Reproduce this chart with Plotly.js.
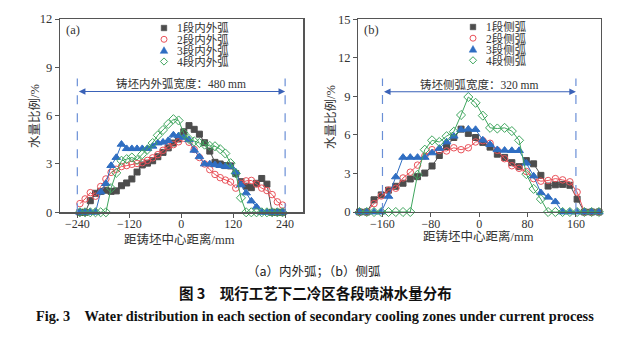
<!DOCTYPE html>
<html><head><meta charset="utf-8">
<script src="https://cdn.plot.ly/plotly-3.0.1.min.js"></script>
<style>html,body{margin:0;padding:0;background:#fff}#c{width:627px;height:338px}</style>
</head><body><div id="c"></div>
<script>
// ---------- data: panel (a) 内外弧 ----------
const xA = [-234,-222,-210,-198,-186,-174,-162,-150,-138,-126,-114,-102,-90,-78,-66,-54,-42,-30,-18,-6,6,18,30,42,54,66,78,90,102,114,126,138,150,162,174,186,198,210,222,234];
const a1 = [0,0,0.72,1.18,1.3,1.37,1.3,1.33,1.65,1.82,2.07,2.5,2.94,3.05,3.2,3.45,3.72,4.0,4.3,4.55,5.0,5.38,5.15,4.85,4.32,3.8,3.1,3.0,2.9,2.88,2.4,1.9,1.62,1.53,1.8,2.1,1.75,0,0,0];
const a2 = [0.54,0.83,1.22,1.0,1.6,2.07,2.48,2.67,2.84,2.9,2.98,3.03,3.08,3.22,3.38,3.58,3.85,4.1,4.2,4.38,4.6,4.35,3.9,3.4,3.0,2.65,2.35,2.15,2.0,1.88,1.5,1.8,1.95,1.98,1.75,1.5,1.35,1.1,0.65,0.45];
const a3 = [0,0,0,0,1.26,1.78,2.9,3.4,4.22,3.95,3.95,3.95,3.95,3.95,4.1,4.3,4.35,4.45,4.8,4.75,4.65,4.5,3.85,3.45,3.0,3.0,2.95,2.9,2.85,2.85,2.5,1.7,1.2,0.7,0.33,0,0,0,0,0];
const a4 = [0,0,0,0,0,0,1.5,2.45,3.2,3.3,3.4,3.25,3.6,3.9,4.3,4.78,5.11,5.48,5.78,5.7,4.9,4.55,4.4,4.3,4.2,4.12,4.1,3.92,3.65,3.05,2.42,0.9,0,0,0,0,0,0,0,0];
// ---------- data: panel (b) 侧弧 ----------
const xB = [-198,-186,-174,-162,-150,-138,-126,-114,-102,-90,-78,-66,-54,-42,-30,-18,-6,6,18,30,42,54,66,78,90,102,114,126,138,150,162,174,186,198];
const b1 = [0,0,0.95,1.33,1.7,2.0,2.24,2.57,2.75,3.03,3.58,4.4,5.1,5.8,6.45,6.12,5.8,5.42,5.05,4.5,4.25,3.84,3.53,4.0,3.75,2.85,2.02,2.12,2.15,2.08,1.0,0,0,0];
const b2 = [0,0,0.65,1.25,1.7,1.85,2.65,3.1,3.65,4.35,4.85,4.8,4.75,5.0,4.85,5.0,5.45,5.55,5.35,4.8,4.15,3.6,3.4,3.15,2.6,2.4,2.45,2.6,2.5,2.35,1.55,0,0,0];
const b3 = [0,0,0,0,1.22,2.73,4.25,4.25,4.25,4.25,4.6,4.95,5.45,5.9,6.4,6.45,6.42,5.6,5.25,4.85,4.8,4.78,4.78,3.8,2.8,1.5,1.15,0.8,0,0,0,0,0,0];
const b4 = [0,0,0,0,0,0,0,0,2.9,4.85,5.58,5.45,5.9,6.25,7.55,8.95,8.5,7.5,6.55,6.5,6.55,6.3,5.58,2.95,1.8,1.0,0,0,0,0,0,0,0,0];

const namesA = ['1段内外弧','2段内外弧','3段内外弧','4段内外弧'];
const namesB = ['1段侧弧','2段侧弧','3段侧弧','4段侧弧'];
const ticksA = [-240,-120,0,120,240];
const ticksB = [-160,-80,0,80,160];
const yTicksA = [0,3,6,9,12];
const yTicksB = [0,3,6,9,12,15];
const widthA = 480, widthB = 320;

// ---------- styles ----------
const W = 627, H = 338;
const SERIF = '"Liberation Serif","Noto Sans CJK SC",serif';
const TXT = '#333333';
const COLS = ['#4d4d4d','#e9525a','#2f6ec2','#3fa65e'];
const SYMS = ['square','circle-open','triangle-up','diamond-open'];
const SIZES = [6,6.5,7.5,7];

function mk(x, y, i, names, xa, ya){
  return {x:x, y:y, xaxis:xa, yaxis:ya, type:'scatter', mode:'lines+markers',
    name:names[i], showlegend:false, cliponaxis:false,
    line:{color:COLS[i], width:1},
    marker:{symbol:SYMS[i], size:SIZES[i], color:COLS[i], line:{color:COLS[i], width:1}}};
}
const traces = [];
[a1,a2,a3,a4].forEach((s,i)=>traces.push(mk(xA,s,i,namesA,'x','y')));
[b1,b2,b3,b4].forEach((s,i)=>traces.push(mk(xB,s,i,namesB,'x2','y2')));

const px = v => v/W, py = v => 1 - v/H;

function xax(dom, rng, tv){
  return {domain:dom, range:rng, tickvals:tv, ticks:'outside', ticklen:4, tickwidth:1, tickcolor:'#555',
    ticklabelstandoff:-4,
    showline:true, mirror:true, linecolor:'#555', linewidth:1.3, showgrid:false, zeroline:false,
    tickfont:{family:SERIF, size:12, color:TXT}, fixedrange:true};
}
function yax(dom, rng, tv, anchor){
  return {domain:dom, range:rng, tickvals:tv, ticks:'outside', ticklen:4, tickwidth:1, tickcolor:'#555',
    showline:true, mirror:true, linecolor:'#555', linewidth:1.3, showgrid:false, zeroline:false,
    anchor:anchor, tickfont:{family:SERIF, size:12.5, color:TXT}, fixedrange:true};
}

const shapes = [];
const annotations = [];
const DASH = '#6a8fd6', ARROW = '#3a62b8';
// width markers
[[widthA,'x','y',8.3],[widthB,'x2','y2',10.4]].forEach(([w,xr,yr,top])=>{
  [-w/2, w/2].forEach(xv=>shapes.push({type:'line', xref:xr, yref:yr, x0:xv, x1:xv, y0:0, y1:top,
    line:{color:DASH, width:1.2, dash:'dash'}}));
});
annotations.push({xref:'x', yref:'y', axref:'x', ayref:'y', x:widthA/2, y:7.5, ax:-widthA/2, ay:7.5,
  text:'', showarrow:true, arrowhead:2, arrowside:'end+start', arrowsize:1.1, arrowwidth:1.2, arrowcolor:ARROW});
annotations.push({xref:'x2', yref:'y2', axref:'x2', ayref:'y2', x:widthB/2, y:9.36, ax:-widthB/2, ay:9.36,
  text:'', showarrow:true, arrowhead:2, arrowside:'end+start', arrowsize:1.1, arrowwidth:1.2, arrowcolor:ARROW});
annotations.push({xref:'x', yref:'y', x:0, y:7.97, text:'铸坯内外弧宽度：'+widthA+' mm', showarrow:false,
  font:{family:SERIF, size:11.5, color:TXT}, xanchor:'center', yanchor:'middle'});
annotations.push({xref:'x2', yref:'y2', x:0, y:9.96, text:'铸坯侧弧宽度：'+widthB+' mm', showarrow:false,
  font:{family:SERIF, size:11.5, color:TXT}, xanchor:'center', yanchor:'middle'});

// panel labels
annotations.push({xref:'paper', yref:'paper', x:px(64), y:py(30.5), text:'(a)', showarrow:false, xanchor:'left', yanchor:'middle', font:{family:SERIF, size:12.5, color:TXT}});
annotations.push({xref:'paper', yref:'paper', x:px(362), y:py(30.5), text:'(b)', showarrow:false, xanchor:'left', yanchor:'middle', font:{family:SERIF, size:12.5, color:TXT}});

// custom legends (rows are tightly packed, as in the reference)
function legend(names, mx, tx, rows){
  names.forEach((n,i)=>{
    const cx = mx, cy = rows[i];
    const c = COLS[i];
    if(i===0){ const s=2.8; shapes.push({type:'rect', xref:'paper', yref:'paper', x0:px(cx-s), x1:px(cx+s), y0:py(cy+s), y1:py(cy-s), fillcolor:c, line:{color:c, width:0.5}}); }
    if(i===1){ const r=3; shapes.push({type:'circle', xref:'paper', yref:'paper', x0:px(cx-r), x1:px(cx+r), y0:py(cy+r), y1:py(cy-r), line:{color:c, width:1}}); }
    if(i===2){ const r=3.8; shapes.push({type:'path', xref:'paper', yref:'paper', path:`M ${px(cx)},${py(cy-r)} L ${px(cx+r)},${py(cy+r*0.75)} L ${px(cx-r)},${py(cy+r*0.75)} Z`, fillcolor:c, line:{color:c, width:0.5}}); }
    if(i===3){ const r=3.6; shapes.push({type:'path', xref:'paper', yref:'paper', path:`M ${px(cx)},${py(cy-r)} L ${px(cx+r)},${py(cy)} L ${px(cx)},${py(cy+r)} L ${px(cx-r)},${py(cy)} Z`, line:{color:c, width:1}}); }
    annotations.push({xref:'paper', yref:'paper', x:px(tx), y:py(cy), text:n, showarrow:false, xanchor:'left', yanchor:'middle',
      height:11, borderpad:0, font:{family:SERIF, size:11.5, color:TXT}});
  });
}
legend(namesA, 164, 176, [28, 39.3, 50.5, 61.5]);
legend(namesB, 473, 485, [27, 38.2, 49.3, 60.3]);

// axis titles
const yTitle = '水量比例/%', xTitle = '距铸坯中心距离/mm';
annotations.push({xref:'paper', yref:'paper', x:px(35), y:py(116), text:yTitle, textangle:-90, showarrow:false, xanchor:'center', yanchor:'middle', font:{family:SERIF, size:12.5, color:TXT}});
annotations.push({xref:'paper', yref:'paper', x:px(331), y:py(117), text:yTitle, textangle:-90, showarrow:false, xanchor:'center', yanchor:'middle', font:{family:SERIF, size:12.5, color:TXT}});
annotations.push({xref:'paper', yref:'paper', x:px(179), y:py(239.5), text:xTitle, showarrow:false, xanchor:'center', yanchor:'middle', font:{family:SERIF, size:12.5, color:TXT}});
annotations.push({xref:'paper', yref:'paper', x:px(479), y:py(236.5), text:xTitle, showarrow:false, xanchor:'center', yanchor:'middle', font:{family:SERIF, size:12.5, color:TXT}});

// captions
annotations.push({xref:'paper', yref:'paper', x:px(313.5), y:py(270), text:'（a）内外弧；（b）侧弧', showarrow:false, xanchor:'center', yanchor:'middle', font:{family:'"Noto Sans CJK SC",sans-serif', size:12.5, color:'#222'}});
annotations.push({xref:'paper', yref:'paper', x:px(315.5), y:py(292), text:'<b>图 3　现行工艺下二冷区各段喷淋水量分布</b>', showarrow:false, xanchor:'center', yanchor:'middle', font:{family:'"Noto Sans CJK SC",sans-serif', size:14.5, color:'#111'}});
annotations.push({xref:'paper', yref:'paper', x:px(315), y:py(316), text:'<b>Fig. 3　Water distribution in each section of secondary cooling zones under current process</b>', showarrow:false, xanchor:'center', yanchor:'middle', font:{family:SERIF, size:14.3, color:'#111'}});

const layout = {
  width:W, height:H, margin:{l:0,r:0,t:0,b:0}, paper_bgcolor:'#ffffff', plot_bgcolor:'rgba(0,0,0,0)',
  showlegend:false,
  xaxis: xax([px(60), px(303.3)], [-280, 282], ticksA),
  yaxis: yax([1-212.3/H, 1-19/H], [0, 12], yTicksA, 'x'),
  xaxis2: Object.assign(xax([px(358.3), px(600.7)], [-200, 201], ticksB), {anchor:'y2'}),
  yaxis2: yax([1-212/H, 1-19.3/H], [0, 15], yTicksB, 'x2'),
  shapes: shapes, annotations: annotations
};
layout.xaxis.anchor = 'y';
Plotly.newPlot('c', traces, layout, {staticPlot:true, displayModeBar:false});
</script></body></html>
